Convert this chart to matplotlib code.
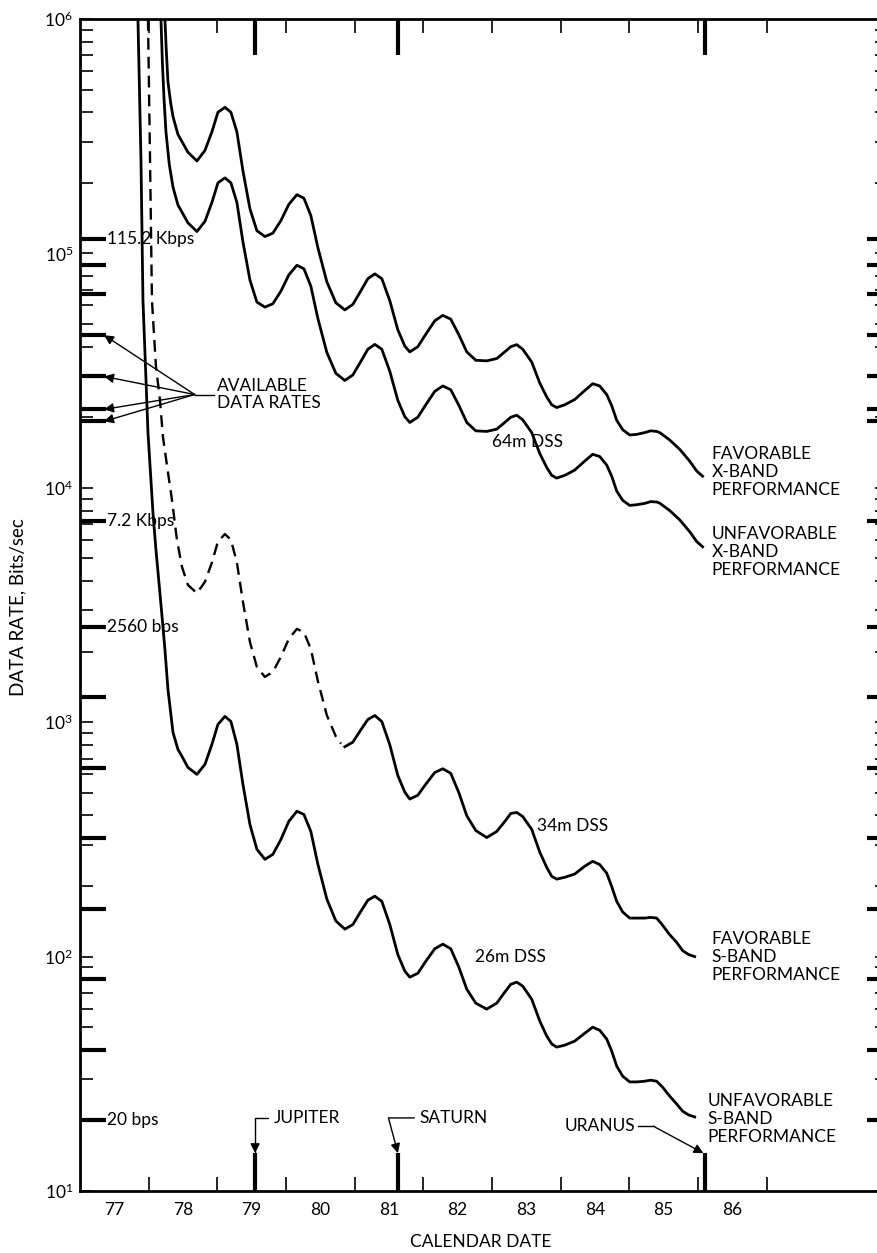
import numpy as np
import matplotlib
matplotlib.use("Agg")
import matplotlib.pyplot as plt

plt.rcParams['font.family'] = ['Lato', 'DejaVu Sans']
plt.rcParams['font.size'] = 12.5

# data (years 19xx, bits/sec)
fav_x_year = [78.237, 78.255, 78.281, 78.32, 78.354, 78.426, 78.485, 78.572, 78.703, 78.820, 78.921, 79.009, 79.111, 79.198,
              79.285, 79.373, 79.475, 79.576, 79.693, 79.809, 79.926, 80.042, 80.159, 80.261, 80.362, 80.464, 80.595, 80.726,
              80.857, 80.974, 81.090, 81.192, 81.294, 81.396, 81.512, 81.629, 81.731, 81.803, 81.920, 82.036, 82.167, 82.284,
              82.400, 82.517, 82.633, 82.764, 82.924, 83.070, 83.186, 83.274, 83.361, 83.448, 83.579, 83.696, 83.798, 83.870,
              83.943, 84.060, 84.205, 84.351, 84.467, 84.569, 84.671, 84.744, 84.817, 84.904, 85.006, 85.108, 85.224, 85.311,
              85.399, 85.443, 85.588, 85.734, 85.879, 85.981, 86.068]
fav_x_rate = [1.0e6, 7.5e5, 5.4e5, 4.4e5, 3.84e5, 3.22e5, 3.0e5, 2.7e5, 2.48e5, 2.75e5, 3.3e5, 4.0e5, 4.2e5, 4.0e5,
              3.3e5, 2.25e5, 1.55e5, 1.25e5, 1.18e5, 1.22e5, 1.38e5, 1.62e5, 1.78e5, 1.72e5, 1.45e5, 1.06e5, 7.56e4, 6.16e4,
              5.74e4, 6.06e4, 6.92e4, 7.80e4, 8.18e4, 7.80e4, 6.28e4, 4.72e4, 4.02e4, 3.80e4, 4.00e4, 4.52e4, 5.16e4, 5.44e4,
              5.24e4, 4.50e4, 3.80e4, 3.50e4, 3.48e4, 3.56e4, 3.80e4, 4.00e4, 4.08e4, 3.90e4, 3.44e4, 2.80e4, 2.44e4, 2.26e4,
              2.20e4, 2.26e4, 2.38e4, 2.60e4, 2.78e4, 2.72e4, 2.50e4, 2.24e4, 1.94e4, 1.77e4, 1.68e4, 1.69e4, 1.72e4, 1.75e4,
              1.74e4, 1.72e4, 1.60e4, 1.46e4, 1.30e4, 1.18e4, 1.12e4]

unfav_x_year = [78.179, 78.20, 78.225, 78.252, 78.30, 78.354, 78.426, 78.485, 78.572, 78.703, 78.820, 78.921, 79.009, 79.111,
                79.198, 79.285, 79.373, 79.475, 79.576, 79.693, 79.809, 79.926, 80.042, 80.159, 80.261, 80.362, 80.464, 80.595,
                80.726, 80.857, 80.974, 81.090, 81.192, 81.294, 81.396, 81.512, 81.629, 81.731, 81.803, 81.920, 82.036, 82.167,
                82.284, 82.400, 82.517, 82.633, 82.764, 82.924, 83.070, 83.186, 83.274, 83.361, 83.448, 83.579, 83.696, 83.798,
                83.870, 83.943, 84.060, 84.205, 84.351, 84.467, 84.569, 84.671, 84.744, 84.817, 84.904, 85.006, 85.108, 85.224,
                85.311, 85.399, 85.443, 85.588, 85.734, 85.879, 85.981, 86.068]
unfav_x_rate = [1.0e6, 6.5e5, 4.5e5, 3.3e5, 2.4e5, 1.92e5, 1.61e5, 1.50e5, 1.35e5, 1.24e5, 1.37e5, 1.65e5, 2.0e5, 2.1e5,
                2.0e5, 1.65e5, 1.12e5, 7.7e4, 6.2e4, 5.9e4, 6.1e4, 6.9e4, 8.1e4, 8.9e4, 8.6e4, 7.25e4, 5.28e4, 3.78e4,
                3.08e4, 2.87e4, 3.03e4, 3.46e4, 3.90e4, 4.09e4, 3.90e4, 3.14e4, 2.36e4, 2.01e4, 1.90e4, 2.00e4, 2.26e4, 2.58e4,
                2.72e4, 2.62e4, 2.25e4, 1.90e4, 1.75e4, 1.74e4, 1.78e4, 1.90e4, 2.00e4, 2.04e4, 1.95e4, 1.72e4, 1.40e4, 1.22e4,
                1.13e4, 1.10e4, 1.13e4, 1.19e4, 1.30e4, 1.39e4, 1.36e4, 1.25e4, 1.12e4, 9.68e3, 8.84e3, 8.41e3, 8.47e3, 8.58e3,
                8.73e3, 8.70e3, 8.6e3, 8.0e3, 7.3e3, 6.5e3, 5.9e3, 5.6e3]

fav_s_dash_year = [77.990, 78.020, 78.048, 78.106, 78.164, 78.208, 78.266, 78.339, 78.412, 78.485, 78.572, 78.703, 78.820,
                   78.921, 79.009, 79.111, 79.198, 79.285, 79.373, 79.475, 79.576, 79.693, 79.809, 79.926, 80.042, 80.159,
                   80.261, 80.362, 80.464, 80.595, 80.726, 80.800]
fav_s_dash_rate = [1.0e6, 2.5e5, 6.3e4, 3.3e4, 2.38e4, 1.65e4, 1.25e4, 8.9e3, 6.0e3, 4.6e3, 3.85e3, 3.55e3, 3.97e3,
                   4.8e3, 5.9e3, 6.35e3, 6.0e3, 4.8e3, 3.26e3, 2.2e3, 1.72e3, 1.56e3, 1.64e3, 1.9e3, 2.27e3, 2.5e3,
                   2.42e3, 2.05e3, 1.5e3, 1.07e3, 8.7e2, 8.1e2]
fav_s_year = [80.857, 80.974, 81.090, 81.192, 81.294, 81.396, 81.512, 81.629, 81.731, 81.803, 81.920, 82.036, 82.167,
              82.284, 82.400, 82.517, 82.633, 82.764, 82.924, 83.070, 83.186, 83.274, 83.361, 83.448, 83.579, 83.696,
              83.798, 83.870, 83.943, 84.060, 84.205, 84.351, 84.467, 84.569, 84.671, 84.744, 84.817, 84.904, 85.006,
              85.108, 85.224, 85.311, 85.399, 85.486, 85.588, 85.690, 85.777, 85.865, 85.952]
fav_s_rate = [7.86e2, 8.22e2, 9.28e2, 1.027e3, 1.068e3, 1.006e3, 8.01e2, 5.92e2, 5.03e2, 4.70e2, 4.88e2, 5.44e2, 6.10e2,
              6.33e2, 6.05e2, 5.01e2, 3.99e2, 3.45e2, 3.22e2, 3.42e2, 3.77e2, 4.08e2, 4.12e2, 3.96e2, 3.49e2, 2.79e2,
              2.40e2, 2.20e2, 2.14e2, 2.18e2, 2.25e2, 2.43e2, 2.55e2, 2.47e2, 2.27e2, 1.99e2, 1.72e2, 1.55e2, 1.46e2,
              1.46e2, 1.46e2, 1.47e2, 1.46e2, 1.36e2, 1.24e2, 1.15e2, 1.06e2, 1.02e2, 1.00e2]

unfav_s_year = [77.844, 77.888, 77.917, 77.961, 77.990, 78.033, 78.063, 78.106, 78.150, 78.208, 78.237, 78.281, 78.354,
                78.426, 78.485, 78.572, 78.703, 78.820, 78.921, 79.009, 79.111, 79.198, 79.285, 79.373, 79.475, 79.576,
                79.693, 79.809, 79.926, 80.042, 80.159, 80.261, 80.362, 80.464, 80.595, 80.726, 80.857, 80.974, 81.090,
                81.192, 81.294, 81.396, 81.512, 81.629, 81.731, 81.803, 81.920, 82.036, 82.167, 82.284, 82.400, 82.517,
                82.633, 82.764, 82.924, 83.070, 83.186, 83.274, 83.361, 83.448, 83.579, 83.696, 83.798, 83.870, 83.943,
                84.060, 84.205, 84.351, 84.467, 84.569, 84.671, 84.744, 84.817, 84.904, 85.006, 85.108, 85.224, 85.311,
                85.399, 85.486, 85.588, 85.690, 85.777, 85.865, 85.952]
unfav_s_rate = [1.0e6, 2.5e5, 6.3e4, 2.9e4, 1.72e4, 1.08e4, 7.8e3, 5.45e3, 3.94e3, 2.56e3, 2.04e3, 1.38e3, 9.06e2,
                7.66e2, 7.15e2, 6.41e2, 5.99e2, 6.61e2, 8.04e2, 9.79e2, 1.059e3, 1.007e3, 8.04e2, 5.43e2, 3.66e2, 2.87e2,
                2.60e2, 2.73e2, 3.16e2, 3.78e2, 4.17e2, 4.04e2, 3.42e2, 2.48e2, 1.76e2, 1.42e2, 1.31e2, 1.37e2, 1.56e2,
                1.74e2, 1.81e2, 1.72e2, 1.37e2, 1.02e2, 86.7, 81.7, 84.9, 95.5, 108, 113, 108, 90.2,
                72.6, 63.3, 59.7, 63.3, 70.5, 76.2, 77.8, 74.8, 65.8, 53.1, 45.8, 42.4, 41.1,
                41.9, 43.6, 47.1, 50.0, 48.5, 44.5, 39.5, 34.1, 30.9, 29.2, 29.2, 29.4, 29.7,
                29.4, 27.7, 25.4, 23.5, 21.9, 21.1, 20.7]

# available data rates (long ticks)
avail_rates = [115200, 89600, 67200, 44800, 29870, 21600, 19200, 7200, 2560, 1280, 640, 320, 160, 80, 40, 20]
avail_labels = {115200: '115.2 Kbps', 7200: '7.2 Kbps', 2560: '2560 bps', 20: '20 bps'}
arrow_rates = [44800, 29870, 21600, 19200]

year_labels = ['77', '78', '79', '80', '81', '82', '83', '84', '85', '86']
planets = ['JUPITER', 'SATURN', 'URANUS']
planet_year = [79.55, 81.63, 86.10]

fig = plt.figure(figsize=(8.78, 12.53), dpi=100)
ax = fig.add_axes([80 / 878, 1 - 1191 / 1253, 1 - 80 / 878 + 0.01, (1191 - 19) / 1253])
ax.set_yscale('log')
ax.set_xlim(77, 88.75)
ax.set_ylim(10, 1e6)

lw = 2.0
ax.plot(fav_x_year, fav_x_rate, color='black', lw=lw, solid_joinstyle='round')
ax.plot(unfav_x_year, unfav_x_rate, color='black', lw=lw, solid_joinstyle='round')
ax.plot(fav_s_dash_year, fav_s_dash_rate, color='black', lw=lw * 0.85, dashes=(5, 3))
ax.plot(fav_s_year, fav_s_rate, color='black', lw=lw, solid_joinstyle='round')
ax.plot(unfav_s_year, unfav_s_rate, color='black', lw=lw, solid_joinstyle='round')

# spines
for s in ['left', 'bottom', 'top']:
    ax.spines[s].set_linewidth(2.0)
ax.spines['right'].set_visible(False)

# y ticks: decades labelled, minor ticks both sides
ax.yaxis.set_ticks_position('both')
ax.set_yticks([10 ** k for k in range(1, 7)])
ax.set_yticklabels([r'$\mathregular{10^{%d}}$' % k for k in range(1, 7)])
ax.tick_params(axis='y', which='major', direction='in', length=9, width=1.2, labelsize=12.5, pad=5)
ax.tick_params(axis='y', which='minor', direction='in', length=9, width=1.2)
ax.tick_params(axis='y', labelright=False)

# x ticks at year boundaries, labels at mid year
ax.set_xticks(np.arange(78, 88))
ax.set_xticklabels([])
ax.set_xticks(np.arange(77.5, 87.0, 1.0), minor=True)
ax.set_xticklabels(year_labels, minor=True)
ax.xaxis.set_ticks_position('both')
ax.tick_params(axis='x', which='major', direction='in', length=10, width=1.2)
ax.tick_params(axis='x', which='minor', length=0, labelsize=12.5, pad=8)

# long ticks for available data rates, left and right
trans_l = ax.get_yaxis_transform()
for r in avail_rates:
    ax.plot([0, 0.032], [r, r], transform=trans_l, color='black', lw=3.0, clip_on=False, solid_capstyle='butt')
    ax.plot([0.975, 1.0], [r, r], transform=trans_l, color='black', lw=3.0, clip_on=False, solid_capstyle='butt')
    if r in avail_labels:
        ax.text(0.034, r, avail_labels[r], transform=trans_l, va='center', ha='left', fontsize=12.5)

# available data rates annotation
for r in arrow_rates:
    ax.annotate('', xy=(77.35, r), xytext=(78.67, 2.5e4),
                arrowprops=dict(arrowstyle='-|>', color='black', lw=1.0, mutation_scale=14,
                                shrinkA=0, shrinkB=0))
ax.plot([78.67, 78.95], [2.5e4, 2.5e4], color='black', lw=1.0)
ax.text(79.0, 2.5e4, 'AVAILABLE\nDATA RATES', va='center', ha='left', fontsize=12.5, linespacing=1.15)

# planet encounters: marks at top and bottom
for p, yr in zip(planets, planet_year):
    ax.plot([yr, yr], [10, 14.5], color='black', lw=3.0, solid_capstyle='butt')
    ax.plot([yr, yr], [1e6, 7.0e5], color='black', lw=3.0, solid_capstyle='butt')

ax.annotate('JUPITER', xy=(79.55, 14.5), xytext=(79.82, 20.5), va='center', ha='left',
            arrowprops=dict(arrowstyle='-|>', color='black', lw=1.0, mutation_scale=14,
                            connectionstyle='angle,angleA=180,angleB=90,rad=0', shrinkA=2, shrinkB=0))
ax.annotate('SATURN', xy=(81.63, 14.5), xytext=(81.95, 20.5), va='center', ha='left',
            arrowprops=dict(arrowstyle='-|>', color='black', lw=1.0, mutation_scale=14,
                            connectionstyle='angle,angleA=180,angleB=105,rad=0', shrinkA=2, shrinkB=0))
ax.text(85.08, 18.9, 'URANUS', va='center', ha='right')
ax.plot([85.12, 85.35], [18.9, 18.9], color='black', lw=1.0)
ax.annotate('', xy=(86.08, 14.5), xytext=(85.35, 18.9),
            arrowprops=dict(arrowstyle='-|>', color='black', lw=1.0, mutation_scale=14, shrinkA=0, shrinkB=0))

# curve labels
ax.text(83.0, 1.57e4, '64m DSS', ha='left', va='center')
ax.text(83.66, 3.6e2, '34m DSS', ha='left', va='center')
ax.text(82.75, 1.0e2, '26m DSS', ha='left', va='center')
ax.text(86.2, 1.17e4, 'FAVORABLE\nX-BAND\nPERFORMANCE', ha='left', va='center', linespacing=1.15)
ax.text(86.2, 5.3e3, 'UNFAVORABLE\nX-BAND\nPERFORMANCE', ha='left', va='center', linespacing=1.15)
ax.text(86.2, 1.0e2, 'FAVORABLE\nS-BAND\nPERFORMANCE', ha='left', va='center', linespacing=1.15)
ax.text(86.14, 2.03e1, 'UNFAVORABLE\nS-BAND\nPERFORMANCE', ha='left', va='center', linespacing=1.15)

fig.text(18 / 878, 1 - 607 / 1253, 'DATA RATE, Bits/sec', rotation=90, ha='center', va='center', fontsize=13.5)
fig.text(481 / 878, 1 - 1242 / 1253, 'CALENDAR DATE', ha='center', va='center')

fig.savefig('out.png', dpi=100)
